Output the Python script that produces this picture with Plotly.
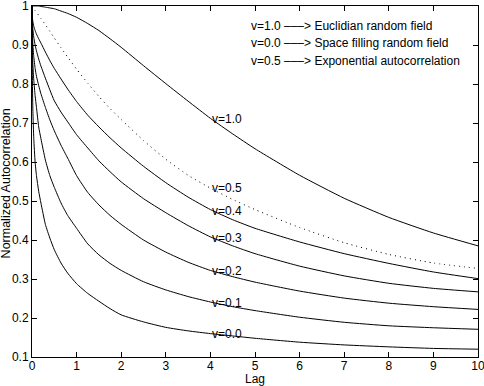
import plotly.graph_objects as go

lag = [0, 0.01, 0.02, 0.04, 0.07, 0.1, 0.15, 0.2, 0.3, 0.4, 0.5, 0.65, 0.8, 1, 1.25, 1.5, 1.75,
       2, 2.5, 3, 3.5, 4, 4.5, 5, 6, 7, 8, 9, 10]

v10 = [1, 1, 1, 1, 1, 1, 1, 0.999, 0.997, 0.995, 0.993, 0.987, 0.981, 0.971, 0.955, 0.937, 0.916,
       0.894, 0.847, 0.801, 0.756, 0.712, 0.672, 0.634, 0.566, 0.507, 0.458, 0.418, 0.385]
v05 = [1, 0.998, 0.997, 0.993, 0.988, 0.984, 0.976, 0.968, 0.952, 0.935, 0.918, 0.893, 0.869, 0.838,
       0.802, 0.768, 0.737, 0.709, 0.655, 0.607, 0.566, 0.533, 0.504, 0.478, 0.432, 0.393, 0.363, 0.341, 0.327]
v04 = [1, 0.968, 0.96, 0.948, 0.937, 0.928, 0.916, 0.905, 0.882, 0.86, 0.84, 0.813, 0.787, 0.755,
       0.72, 0.69, 0.662, 0.636, 0.589, 0.547, 0.51, 0.478, 0.452, 0.43, 0.395, 0.365, 0.34, 0.318, 0.301]
v03 = [1, 0.955, 0.94, 0.92, 0.9, 0.885, 0.864, 0.846, 0.815, 0.785, 0.757, 0.728, 0.703, 0.67,
       0.636, 0.603, 0.575, 0.549, 0.506, 0.47, 0.437, 0.408, 0.385, 0.365, 0.333, 0.308, 0.289, 0.276, 0.267]
v02 = [1, 0.925, 0.9, 0.87, 0.84, 0.82, 0.796, 0.775, 0.74, 0.708, 0.68, 0.643, 0.61, 0.565,
       0.522, 0.49, 0.463, 0.44, 0.4, 0.369, 0.343, 0.322, 0.306, 0.292, 0.269, 0.251, 0.238, 0.229, 0.222]
v01 = [1, 0.88, 0.85, 0.81, 0.77, 0.74, 0.69, 0.66, 0.605, 0.565, 0.535, 0.495, 0.463, 0.43,
       0.39, 0.362, 0.34, 0.322, 0.293, 0.272, 0.255, 0.241, 0.229, 0.219, 0.202, 0.189, 0.18, 0.175, 0.171]
v00 = [1, 0.8, 0.73, 0.66, 0.6, 0.565, 0.525, 0.495, 0.44, 0.405, 0.375, 0.341, 0.315, 0.288,
       0.263, 0.243, 0.224, 0.208, 0.19, 0.176, 0.167, 0.16, 0.154, 0.148, 0.138, 0.131, 0.126, 0.122, 0.12]

series = [("v=1.0", v10, "solid"), ("v=0.5", v05, "1px,4px"), ("v=0.4", v04, "solid"),
          ("v=0.3", v03, "solid"), ("v=0.2", v02, "solid"), ("v=0.1", v01, "solid"),
          ("v=0.0", v00, "solid")]

label_x = 4
label_y = [0.711, 0.533, 0.474, 0.405, 0.321, 0.239, 0.160]

legend_lines = ["v=1.0 \u2013\u2013\u2013> Euclidian random field",
                "v=0.0 \u2013\u2013\u2013> Space filling random field",
                "v=0.5 \u2013\u2013\u2013> Exponential autocorrelation"]
legend_x = 4.87
legend_y = [0.949, 0.904, 0.859]

xticks = [0, 1, 2, 3, 4, 5, 6, 7, 8, 9, 10]
xticktext = ["0", "1", "2", "3", "4", "5", "6", "7", "8", "9", "10"]
yticks = [0.1, 0.2, 0.3, 0.4, 0.5, 0.6, 0.7, 0.8, 0.9, 1.0]
yticktext = ["0.1", "0.2", "0.3", "0.4", "0.5", "0.6", "0.7", "0.8", "0.9", "1"]

FONT = "Liberation Sans, Arial, Helvetica, sans-serif"

fig = go.Figure()
for name, ys, dash in series:
    fig.add_trace(go.Scatter(x=lag, y=ys, mode="lines", name=name,
                             line=dict(color="black", width=1, dash=dash, shape="spline", smoothing=0.5),
                             showlegend=False, hoverinfo="skip"))

annotations = []
for (name, _, _), ly in zip(series, label_y):
    annotations.append(dict(x=label_x, y=ly, xref="x", yref="y", text=name, showarrow=False,
                            xanchor="left", yanchor="middle", font=dict(size=12, color="black", family=FONT)))
for t, ly in zip(legend_lines, legend_y):
    annotations.append(dict(x=legend_x, y=ly, xref="x", yref="y", text=t, showarrow=False,
                            xanchor="left", yanchor="middle", font=dict(size=12, color="black", family=FONT)))
annotations.append(dict(x=0.5, y=-0.064, xref="paper", yref="paper", text="Lag", showarrow=False,
                        xanchor="center", yanchor="middle", borderpad=0,
                        font=dict(size=12, color="black", family=FONT)))
annotations.append(dict(x=-0.058, y=0.495, xref="paper", yref="paper", text="Normalized Autocorrelation",
                        showarrow=False, textangle=-90, xanchor="center", yanchor="middle",
                        font=dict(size=12.5, color="black", family=FONT)))

axis_common = dict(showgrid=False, zeroline=False, showline=True, linecolor="black", linewidth=1,
                   mirror="ticks", ticks="inside", ticklen=5, tickcolor="black", tickwidth=1,
                   tickfont=dict(size=12, color="black", family=FONT), automargin=False,
                   ticklabeloverflow="allow")

fig.update_layout(
    width=484, height=386,
    margin=dict(l=32, r=6, t=6, b=29),
    paper_bgcolor="white", plot_bgcolor="white",
    xaxis=dict(range=[0, 10], tickvals=xticks, ticktext=xticktext, ticklabelstandoff=-2, **axis_common),
    yaxis=dict(range=[0.1, 1], tickvals=yticks, ticktext=yticktext, **axis_common),
    annotations=annotations,
)

fig.write_html("out.html", config={"displayModeBar": False},
               post_script="document.body.style.margin='0';document.body.style.padding='0';")
